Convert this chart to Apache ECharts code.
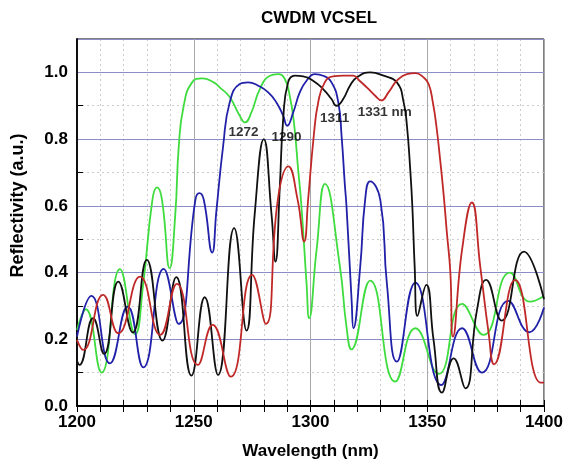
<!DOCTYPE html>
<html>
<head>
<meta charset="utf-8">
<script src="https://cdn.jsdelivr.net/npm/echarts@6/dist/echarts.min.js"></script>
<style>html,body{margin:0;padding:0;background:#fff}#c{width:571px;height:469px}</style>
</head>
<body>
<div id="c"></div>
<script>
const xTicks = [1200, 1250, 1300, 1350, 1400];
const yTicks = [0.0, 0.2, 0.4, 0.6, 0.8, 1.0];

const green = [[1200,0.228],[1203.8,0.29],[1210.5,0.10],[1218.4,0.41],[1224.9,0.215],[1228.4,0.368],[1232.3,0.618],[1234.3,0.655],[1236.4,0.618],[1239.7,0.413],[1242.1,0.575],[1243.6,0.78],[1245.7,0.90],[1249.3,0.97],[1253.6,0.982],[1258.6,0.97],[1261.1,0.955],[1265.4,0.926],[1269.7,0.87],[1271.9,0.85],[1274.7,0.88],[1278.3,0.95],[1282.6,0.99],[1286.1,0.995],[1289,0.98],[1291.1,0.93],[1292.9,0.85],[1294.7,0.71],[1296.1,0.60],[1298.3,0.368],[1299.4,0.263],[1302.6,0.468],[1306.2,0.666],[1312.6,0.418],[1315.4,0.238],[1317.5,0.17],[1325.6,0.376],[1336.3,0.073],[1344.9,0.233],[1354.9,0.096],[1364.9,0.306],[1374.1,0.213],[1385.4,0.40],[1394,0.313],[1400,0.33]];

const blue = [[1200,0.208],[1206.2,0.33],[1214.1,0.128],[1221.7,0.298],[1228.4,0.116],[1237.1,0.411],[1243.5,0.246],[1250.7,0.618],[1252.4,0.638],[1254.3,0.618],[1257.9,0.46],[1259.7,0.585],[1262.6,0.78],[1265.4,0.91],[1269.7,0.965],[1273.3,0.97],[1277.6,0.96],[1281.9,0.94],[1285.4,0.91],[1288.3,0.87],[1290,0.84],[1292.6,0.88],[1295.4,0.94],[1298.3,0.975],[1301.9,0.995],[1305.4,0.99],[1309,0.97],[1311.9,0.91],[1313.3,0.81],[1314.7,0.664],[1315.4,0.60],[1317.6,0.318],[1318.4,0.233],[1321.3,0.418],[1323.4,0.618],[1325.5,0.673],[1329.9,0.618],[1332.7,0.368],[1337,0.133],[1344.9,0.37],[1356,0.063],[1364.9,0.233],[1373.4,0.10],[1384.7,0.315],[1393.7,0.221],[1400,0.295]];

const black = [[1200,0.135],[1201,0.123],[1206.9,0.263],[1211.6,0.156],[1217.7,0.373],[1223.9,0.22],[1229.9,0.438],[1236.6,0.196],[1242.5,0.386],[1249,0.091],[1254.7,0.326],[1260.4,0.093],[1267.3,0.533],[1272.6,0.226],[1276.1,0.575],[1280,0.80],[1283.3,0.575],[1285,0.433],[1286.9,0.664],[1288.3,0.86],[1290.4,0.97],[1293.3,0.99],[1296.9,0.988],[1301.1,0.975],[1305.4,0.95],[1309,0.92],[1311.1,0.90],[1314,0.92],[1316.9,0.96],[1319.9,0.985],[1325.6,1.0],[1331.3,0.99],[1337,0.97],[1339.9,0.91],[1341.3,0.84],[1342.7,0.71],[1343.6,0.60],[1344.6,0.42],[1345.8,0.27],[1349.6,0.363],[1352.7,0.198],[1356.3,0.04],[1361.3,0.143],[1366.3,0.053],[1371.3,0.288],[1375.2,0.378],[1381.9,0.256],[1391.4,0.463],[1400,0.32]];

const red = [[1200,0.198],[1202.6,0.168],[1211.2,0.333],[1217.7,0.218],[1227,0.388],[1235.6,0.213],[1242.8,0.366],[1251.7,0.123],[1258.1,0.243],[1265.9,0.088],[1275,0.393],[1280.9,0.246],[1286,0.618],[1290.5,0.718],[1294.5,0.618],[1297.3,0.493],[1299,0.62],[1301.4,0.81],[1303.3,0.91],[1306.1,0.97],[1309.7,0.988],[1314,0.99],[1318.3,0.99],[1321,0.975],[1324.1,0.955],[1327.7,0.93],[1330.3,0.916],[1333.4,0.94],[1337,0.975],[1341.3,0.995],[1344.9,0.998],[1348.4,0.985],[1350.6,0.965],[1352.4,0.91],[1353.9,0.84],[1355.6,0.733],[1357,0.635],[1358.4,0.52],[1359.9,0.40],[1361,0.208],[1364.9,0.468],[1369.1,0.61],[1372.7,0.418],[1376.3,0.218],[1378.6,0.125],[1387.6,0.378],[1398.6,0.07],[1400,0.07]];

const annoText = ['1272', '1290', '1311', '1331 nm'];
const annoX = [1271.3, 1289.7, 1310.3, 1331.8];
const annoY = [0.82, 0.804, 0.862, 0.88];

const chart = echarts.init(document.getElementById('c'), null, {renderer: 'canvas'});
const FONT = 'Liberation Sans, Arial, sans-serif';

function line(name, data, color) {
  return {
    name, type: 'line', data, xAxisIndex: 0, yAxisIndex: 0,
    showSymbol: false, symbol: 'none', smooth: 0.5,
    lineStyle: {color, width: 1.8}, itemStyle: {color}, z: 3
  };
}

chart.setOption({
  animation: false,
  backgroundColor: '#fff',
  title: {
    text: 'CWDM VCSEL', left: 256, top: 5,
    textStyle: {fontFamily: FONT, fontWeight: 'bold', fontSize: 17, color: '#000'}
  },
  grid: {left: 77, right: 27, top: 39, bottom: 63, show: true, borderColor: '#000', borderWidth: 1, backgroundColor: 'transparent'},
  xAxis: [
    {
      type: 'value', position: 'bottom', min: xTicks[0], max: xTicks[xTicks.length - 1], interval: 50, z: 2,
      name: 'Wavelength (nm)', nameLocation: 'middle', nameGap: 37,
      nameTextStyle: {fontFamily: FONT, fontWeight: 'bold', fontSize: 17, color: '#000'},
      axisLine: {lineStyle: {color: '#000', width: 1.8}},
      axisTick: {inside: true, length: 6, lineStyle: {color: '#000', width: 1}},
      minorTick: {show: true, splitNumber: 5, length: 6, lineStyle: {color: '#000', width: 1}},
      axisLabel: {fontFamily: FONT, fontWeight: 'bold', fontSize: 17, color: '#000', margin: 8,
        formatter: v => String(Math.round(v))},
      splitLine: {show: true, lineStyle: {color: '#a8a8a8', width: 1}}
    },
    {
      type: 'value', position: 'top', min: xTicks[0], max: xTicks[xTicks.length - 1], interval: 10, z: 1,
      axisLine: {lineStyle: {color: '#000', width: 1.2}},
      axisTick: {inside: true, length: 6, lineStyle: {color: '#000', width: 1}},
      axisLabel: {show: false},
      splitLine: {show: true, lineStyle: {color: '#cccccc', width: 1, type: [2, 3]}}
    }
  ],
  yAxis: [
    {
      type: 'value', position: 'left', min: 0, max: 1.1, interval: 0.2, z: 2,
      name: 'Reflectivity (a.u.)', nameLocation: 'middle', nameGap: 50,
      nameTextStyle: {fontFamily: FONT, fontWeight: 'bold', fontSize: 18, color: '#000', padding: [0, 0, 0, 34]},
      axisLine: {show: true, lineStyle: {color: '#000', width: 1.8}},
      axisTick: {show: false},
      axisLabel: {fontFamily: FONT, fontWeight: 'bold', fontSize: 17, color: '#000', margin: 9, showMaxLabel: false,
        formatter: v => (yTicks.some(t => Math.abs(t - v) < 1e-6) ? v.toFixed(1) : '')},
      splitLine: {show: true, lineStyle: {color: '#8c8cc8', width: 1}}
    },
    {
      type: 'value', position: 'left', min: 0, max: 1.1, interval: 0.1, z: 1,
      axisLine: {show: false},
      axisTick: {show: true, inside: true, length: 6, lineStyle: {color: '#000', width: 1}},
      axisLabel: {show: false},
      splitLine: {show: true, lineStyle: {color: '#cccccc', width: 1, type: [2, 3]}}
    }
  ],
  series: [
    line('green', green, '#3fdc3f'),
    line('blue', blue, '#2020a8'),
    line('black', black, '#101010'),
    line('red', red, '#c02828'),
    {
      type: 'scatter', xAxisIndex: 0, yAxisIndex: 0, symbolSize: 1, z: 5,
      itemStyle: {color: 'rgba(0,0,0,0)'},
      data: annoText.map((t, i) => ({name: t, value: [annoX[i], annoY[i]]})),
      label: {show: true, position: 'inside', formatter: p => p.name,
        fontFamily: FONT, fontWeight: 'bold', fontSize: 13.5, color: '#000'}
    }
  ]
});
</script>
</body>
</html>
